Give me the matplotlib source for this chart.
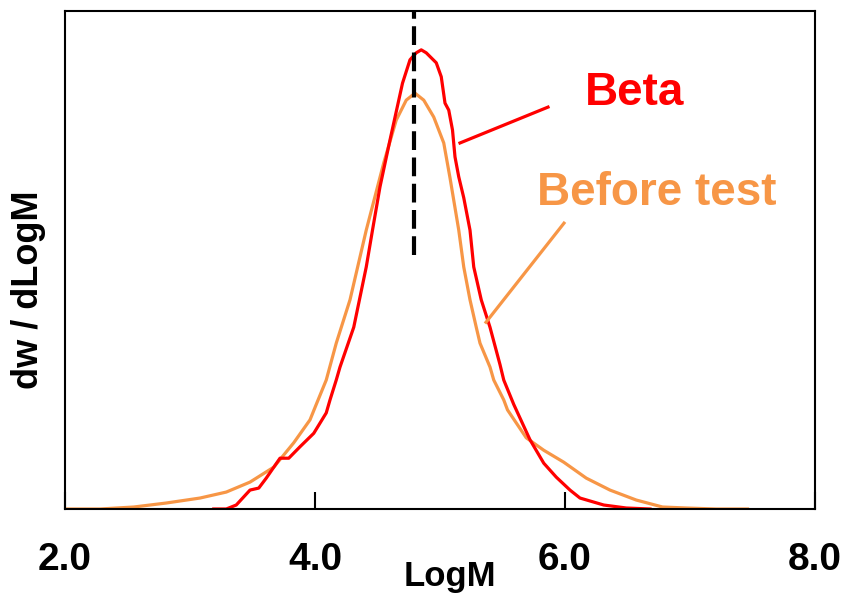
import matplotlib
matplotlib.use("Agg")
import matplotlib.pyplot as plt

plt.rcParams['font.family'] = ['Liberation Sans', 'DejaVu Sans']

# Beta curve (LogM, dw/dLogM normalised)
beta_x = [3.19, 3.29, 3.37, 3.48, 3.55, 3.61, 3.72, 3.79, 3.88, 3.99, 4.09, 4.12, 4.17,
          4.20, 4.31, 4.41, 4.46, 4.52, 4.60, 4.70, 4.76, 4.81, 4.85, 4.89, 4.97, 5.01,
          5.04, 5.07, 5.10, 5.12, 5.15, 5.19, 5.24, 5.27, 5.33, 5.40, 5.48, 5.51, 5.59,
          5.72, 5.83, 5.93, 6.04, 6.12, 6.31, 6.49, 6.68]
beta_y = [0.0, 0.0, 0.008, 0.038, 0.042, 0.062, 0.102, 0.102, 0.125, 0.152, 0.193, 0.219, 0.259,
          0.285, 0.365, 0.486, 0.560, 0.647, 0.741, 0.855, 0.902, 0.916, 0.922, 0.916, 0.896, 0.868,
          0.815, 0.801, 0.761, 0.707, 0.667, 0.625, 0.560, 0.486, 0.420, 0.365, 0.290, 0.259, 0.210,
          0.139, 0.092, 0.064, 0.038, 0.022, 0.008, 0.002, 0.0]

# Before test curve
before_x = [2.00, 2.28, 2.55, 2.81, 3.08, 3.29, 3.48, 3.67, 3.83, 3.96, 4.01, 4.09, 4.17,
            4.28, 4.41, 4.55, 4.65, 4.73, 4.80, 4.87, 4.95, 5.03, 5.08, 5.15, 5.19, 5.24,
            5.29, 5.32, 5.40, 5.43, 5.51, 5.54, 5.69, 5.83, 5.99, 6.17, 6.36, 6.57, 6.78,
            6.97, 7.21, 7.46]
before_y = [0.0, 0.0, 0.004, 0.012, 0.022, 0.034, 0.054, 0.084, 0.133, 0.179, 0.210, 0.259, 0.333,
            0.420, 0.560, 0.695, 0.781, 0.821, 0.835, 0.821, 0.787, 0.735, 0.665, 0.560, 0.486, 0.420,
            0.365, 0.333, 0.285, 0.259, 0.219, 0.199, 0.143, 0.118, 0.094, 0.062, 0.038, 0.018, 0.004,
            0.002, 0.0, 0.0]

peak_logm = 4.79
x_ticks = [2.0, 4.0, 6.0, 8.0]
x_tick_labels = ["2.0", "4.0", "6.0", "8.0"]

red = "#FF0000"
orange = "#F79646"

fig = plt.figure(figsize=(8.46, 5.95), dpi=100)
ax = fig.add_axes([65/846, 86/595, 750/846, 498/595])

ax.plot(before_x, before_y, color=orange, lw=2.3, solid_joinstyle='round')
ax.plot(beta_x, beta_y, color=red, lw=2.3, solid_joinstyle='round')
ax.plot([peak_logm, peak_logm], [0.51, 1.0], color='black', lw=3.0,
        linestyle=(0, (4.5, 1.8)))

# annotations
ax.plot([5.864, 5.16], [0.807, 0.735], color=red, lw=2.3)
ax.text(6.56, 0.835, "Beta", color=red, fontsize=33, fontweight='bold',
        ha='center', va='center')
ax.plot([5.992, 5.368], [0.574, 0.375], color=orange, lw=2.3)
ax.text(6.73, 0.634, "Before test", color=orange, fontsize=33, fontweight='bold',
        ha='center', va='center')

ax.set_xlim(2.0, 8.0)
ax.set_ylim(0, 1.0)
ax.set_xticks(x_ticks)
ax.set_xticklabels(x_tick_labels, fontsize=28, fontweight='bold')
ax.tick_params(axis='x', direction='in', length=12, width=1.5, pad=24)
ax.set_yticks([])
for s in ax.spines.values():
    s.set_linewidth(1.5)

ax.set_xlabel("LogM", fontsize=25, fontweight='bold')
ax.xaxis.set_label_coords(0.513, -0.103)
ax.set_ylabel("dw / dLogM", fontsize=26, fontweight='bold')
ax.yaxis.set_label_coords(-0.026, 0.44)

fig.savefig("out.png", dpi=100)
